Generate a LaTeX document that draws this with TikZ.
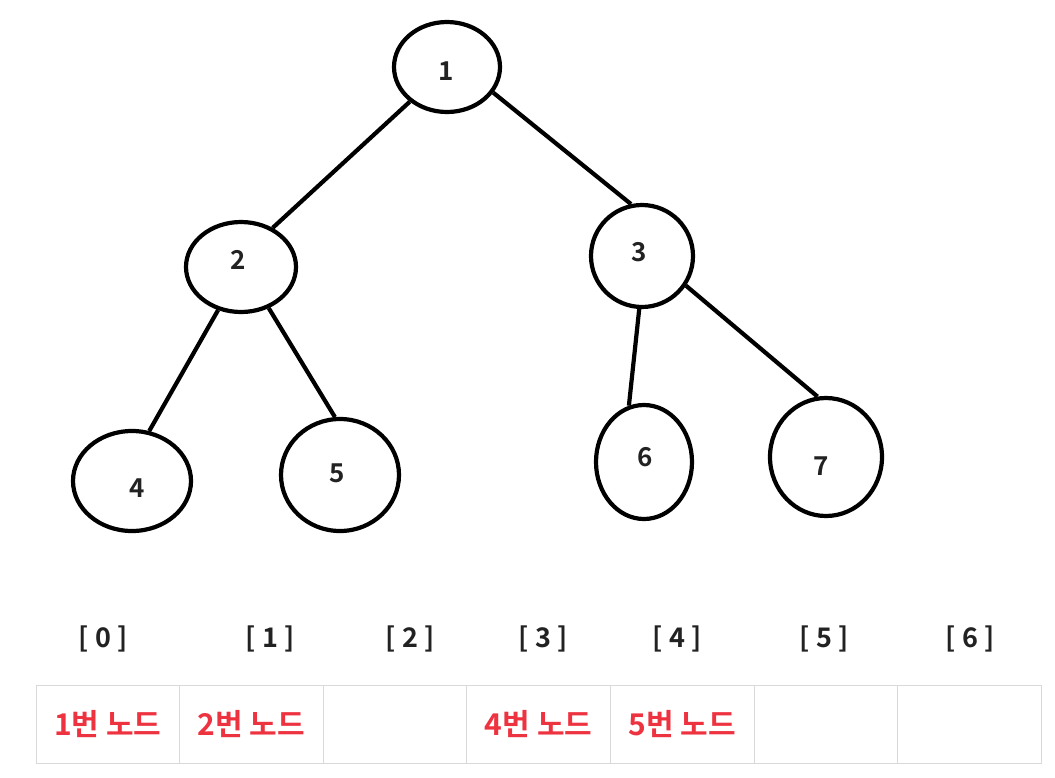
\documentclass[tikz,border=0pt]{standalone}
\usepackage{fontspec}
\setmainfont{Noto Sans CJK KR}[BoldFont={* Bold}]
\usepackage{tikz}
\usetikzlibrary{shapes.geometric, positioning}
\definecolor{inkgray}{HTML}{222222}
\definecolor{cellred}{HTML}{EE3340}
\definecolor{gridgray}{HTML}{D9D9D9}

\begin{document}
\begin{tikzpicture}[
    x=1pt, y=-1pt,
    vertex/.style = {ellipse, draw=black, line width=4.2pt, inner sep=0pt},
    num/.style    = {font=\bfseries\fontsize{26}{28}\selectfont, text=inkgray},
    branch/.style = {draw=black, line width=4.2pt},
    idx/.style    = {font=\bfseries\fontsize{27}{29}\selectfont, text=inkgray},
    cell/.style   = {rectangle, draw=gridgray, line width=1pt, outer sep=0pt, minimum width=143.6pt, minimum height=78pt, inner sep=0pt,
                     font=\bfseries\fontsize{30}{32}\selectfont, text=cellred}
]
\useasboundingbox (0,0) rectangle (1055,777);

% Root
\node (n1) [vertex, minimum width=106pt, minimum height=90pt] at (447,67) {};
\node (t1) [num] at (446,71) {1};

% Level 2
\node (n2) [vertex, minimum width=110pt, minimum height=90pt] at (241,267) {};
\node (t2) [num] at (238,260) {2};
\node (n3) [vertex, minimum width=102pt, minimum height=102pt] at (642,256) {};
\node (t3) [num] at (639,252) {3};

% Leaves
\node (n4) [vertex, minimum width=118pt, minimum height=100pt] at (132,481) {};
\node (t4) [num] at (137,488) {4};
\node (n5) [vertex, minimum width=118pt, minimum height=112pt] at (340,475) {};
\node (t5) [num] at (337,473) {5};
\node (n6) [vertex, minimum width=96pt, minimum height=114pt] at (644,462) {};
\node (t6) [num] at (645,457) {6};
\node (n7) [vertex, minimum width=112pt, minimum height=118pt] at (826,457) {};
\node (t7) [num] at (821,466) {7};

% Branches
\draw [branch] (n1.-137) -- (n2.51);
\draw [branch] (n1.-29) -- (n3.102);
\draw [branch] (n2.-118) -- (n4.71);
\draw [branch] (n2.-56) -- (n5.95);
\draw [branch] (n3.-93) -- (n6.105);
\draw [branch] (n3.-34) -- (n7.98);

% Array indices
\node (i0) [idx] at (103,639) {[ 0 ]};
\node (i1) [idx] at (270,639) {[ 1 ]};
\node (i2) [idx] at (410,639) {[ 2 ]};
\node (i3) [idx] at (543,639) {[ 3 ]};
\node (i4) [idx] at (677,639) {[ 4 ]};
\node (i5) [idx] at (824,639) {[ 5 ]};
\node (i6) [idx] at (970,639) {[ 6 ]};

% Array cells
\node (c0) [cell] at (107.8,724) {1번 노드};
\node (c1) [cell, right=0pt of c0] {2번 노드};
\node (c2) [cell, right=0pt of c1] {};
\node (c3) [cell, right=0pt of c2] {4번 노드};
\node (c4) [cell, right=0pt of c3] {5번 노드};
\node (c5) [cell, right=0pt of c4] {};
\node (c6) [cell, right=0pt of c5] {};

\end{tikzpicture}
\end{document}
